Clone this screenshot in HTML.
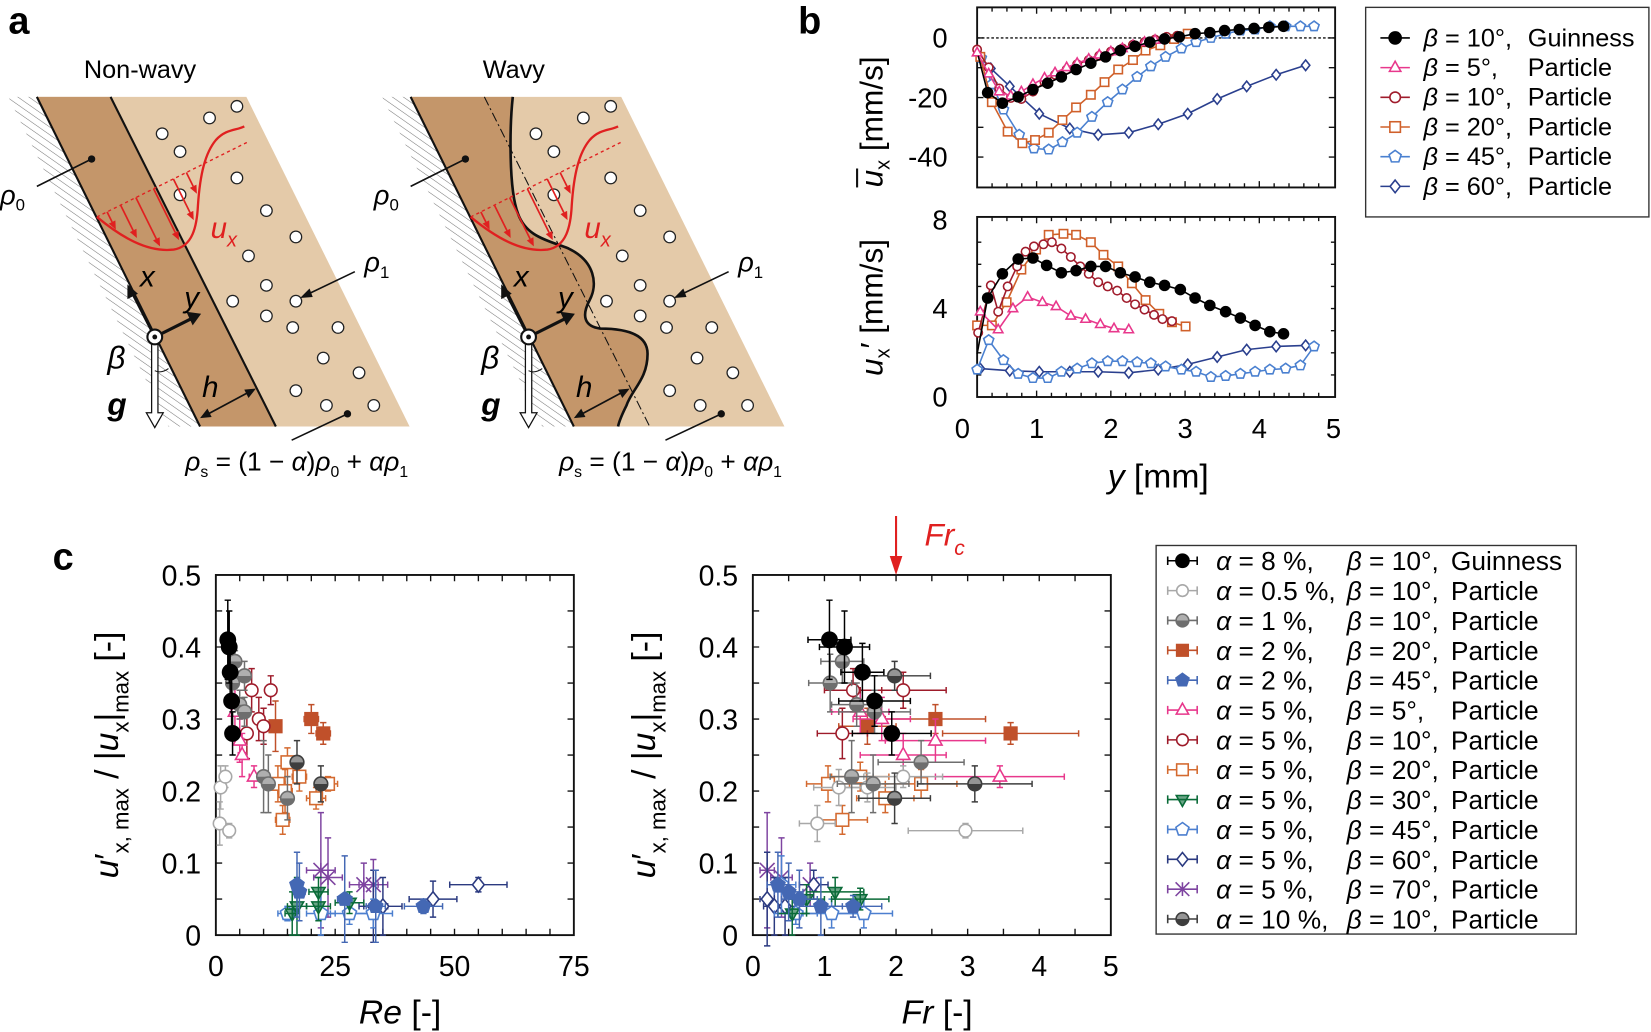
<!DOCTYPE html>
<html><head><meta charset="utf-8"><style>
html,body{margin:0;padding:0;background:#fff}
svg{display:block;font-family:"Liberation Sans",Arial,sans-serif}
</style></head><body>
<svg id="s" xmlns="http://www.w3.org/2000/svg" width="1651" height="1032" viewBox="0 0 1568 980" preserveAspectRatio="none">
<defs>
<pattern id="hatch" patternUnits="userSpaceOnUse" width="6" height="6" patternTransform="rotate(-55)">
<line x1="0" y1="0" x2="0" y2="6" stroke="#777" stroke-width="1"/>
</pattern>
</defs>
<g id="root"></g>
</svg>
<script>
var S=[];function A(s){S.push(s)}
// ---------------- Panel a ----------------
A('<text x="8" y="32" font-size="36" font-weight="bold">a</text>');
A('<text x="133" y="74" font-size="24" text-anchor="middle">Non-wavy</text>');
A('<text x="488" y="74" font-size="24" text-anchor="middle">Wavy</text>');
var parts=[[154,127],[171,144],[199,112],[225,101],[225,169],[171,185],[253,200],[281,225],[236,243],[253,271],[281,286],[221,286],[253,300],[278,311],[321,311],[307,340],[341,354],[281,371],[310,385],[355,385]];
function diagram(o,wavy){
  A('<polygon points="'+(8+o)+',92 '+(35+o)+',92 '+(190+o)+',405 '+(160+o)+',405" fill="url(#hatch)"/>');
  if(!wavy){
    A('<polygon points="'+(35+o)+',92 '+(234+o)+',92 '+(389+o)+',405 '+(190+o)+',405" fill="#e4caa9"/>');
    A('<polygon points="'+(35+o)+',92 '+(105+o)+',92 '+(262+o)+',405 '+(190+o)+',405" fill="#c4966a"/>');
    A('<line x1="'+(105+o)+'" y1="92" x2="'+(262+o)+'" y2="405" stroke="#111" stroke-width="2"/>');
  } else {
    A('<polygon points="'+(35+o)+',92 '+(235+o)+',92 '+(390+o)+',405 '+(190+o)+',405" fill="#e4caa9"/>');
    var ip='M'+(132+o)+',92 C'+(129+o)+',120 '+(128+o)+',180 '+(137+o)+',203 C'+(145+o)+',225 '+(165+o)+',228 '+(185+o)+',236 C'+(210+o)+',248 '+(213+o)+',270 '+(205+o)+',285 C'+(197+o)+',300 '+(200+o)+',310 '+(215+o)+',312 C'+(245+o)+',312 '+(260+o)+',320 '+(260+o)+',336 C'+(260+o)+',360 '+(245+o)+',370 '+(240+o)+',385 C'+(235+o)+',395 '+(233+o)+',400 '+(232+o)+',405';
    A('<path d="M'+(35+o)+',92 L'+(132+o)+',92 '+ip.substring(ip.indexOf('C'))+' L'+(190+o)+',405 Z" fill="#c4966a"/>');
    A('<path d="'+ip+'" fill="none" stroke="#111" stroke-width="2.5"/>');
    A('<line x1="'+(105+o)+'" y1="92" x2="'+(262+o)+'" y2="405" stroke="#111" stroke-width="1" stroke-dasharray="9,3,2,3"/>');
  }
  A('<line x1="'+(35+o)+'" y1="92" x2="'+(190+o)+'" y2="405" stroke="#111" stroke-width="2"/>');
  parts.forEach(function(p){A('<circle cx="'+(p[0]+o)+'" cy="'+p[1]+'" r="5.5" fill="#fff" stroke="#222" stroke-width="1.2"/>')});
  // red profile
  A('<line x1="'+(92+o)+'" y1="206" x2="'+(237+o)+'" y2="134" stroke="#e02020" stroke-width="1.3" stroke-dasharray="3,3"/>');
  A('<path d="M'+(92+o)+',206 C'+(115+o)+',225 '+(140+o)+',240 '+(165+o)+',237 C'+(183+o)+',234 '+(187+o)+',215 '+(188+o)+',195 C'+(190+o)+',165 '+(195+o)+',145 '+(205+o)+',133 C'+(215+o)+',122 '+(225+o)+',124 '+(232+o)+',120" fill="none" stroke="#e02020" stroke-width="2.2"/>');
  var ends=[[110,218],[130,226],[152,234],[170,228],[184,209],[187,184]];
  ends.forEach(function(e){
    var dx=0.444,dy=0.896,ex=e[0]+o,ey=e[1];
    // solve start on dashed line y=206-(x-92-o)*0.497
    var s=(ey-206+(ex-92-o)*0.497)/(dy+dx*0.497);
    var sx=ex-dx*s,sy=ey-dy*s;
    var ax=ex-dx*8,ay=ey-dy*8;
    A('<line x1="'+sx+'" y1="'+sy+'" x2="'+ax+'" y2="'+ay+'" stroke="#e02020" stroke-width="1.6"/>');
    A('<polygon points="'+ex+','+ey+' '+(ax-dy*3.5)+','+(ay+dx*3.5)+' '+(ax+dy*3.5)+','+(ay-dx*3.5)+'" fill="#e02020"/>');
  });
  A('<text x="'+(200+o)+'" y="226" font-size="28" font-style="italic" fill="#e02020">u<tspan font-size="19" dy="8">x</tspan></text>');
  // rho labels
  A('<line x1="'+(35+o)+'" y1="177" x2="'+(87+o)+'" y2="151" stroke="#111" stroke-width="1.5"/><circle cx="'+(87+o)+'" cy="151" r="3.5" fill="#111"/>');
  A('<text x="'+(0+o)+'" y="194" font-size="26" font-style="italic">ρ<tspan font-size="16" dy="6" font-style="normal">0</tspan></text>');
  A('<text x="'+(346+o)+'" y="258" font-size="26" font-style="italic">ρ<tspan font-size="16" dy="6" font-style="normal">1</tspan></text>');
  A('<line x1="'+(337+o)+'" y1="258" x2="'+(291+o)+'" y2="280" stroke="#111" stroke-width="1.5"/><polygon points="'+(285+o)+',283 '+(294+o)+',274 '+(297+o)+',282" fill="#111"/>');
  // x,y arrows
  A('<line x1="'+(147+o)+'" y1="320" x2="'+(126+o)+'" y2="279" stroke="#111" stroke-width="2.5"/><polygon points="'+(121+o)+',270 '+(121+o)+',284 '+(131+o)+',279" fill="#111"/>');
  A('<line x1="'+(147+o)+'" y1="320" x2="'+(181+o)+'" y2="303" stroke="#111" stroke-width="3"/><polygon points="'+(191+o)+',298 '+(177+o)+',296 '+(183+o)+',309" fill="#111"/>');
  A('<text x="'+(133+o)+'" y="272" font-size="28" font-style="italic">x</text>');
  A('<text x="'+(175+o)+'" y="292" font-size="28" font-style="italic">y</text>');
  // gravity arrow
  A('<path d="M'+(144+o)+',326 L'+(144+o)+',392 L'+(139+o)+',392 L'+(147+o)+',406 L'+(155+o)+',392 L'+(150+o)+',392 L'+(150+o)+',326" fill="#fff" stroke="#111" stroke-width="1.2"/>');
  A('<path d="M'+(147+o)+',352 Q'+(153+o)+',355 '+(160+o)+',350" fill="none" stroke="#111" stroke-width="1"/>');
  A('<circle cx="'+(147+o)+'" cy="320" r="7" fill="#fff" stroke="#111" stroke-width="2"/><circle cx="'+(147+o)+'" cy="320" r="2.3" fill="#111"/>');
  A('<text x="'+(102+o)+'" y="350" font-size="30" font-style="italic">β</text>');
  A('<text x="'+(102+o)+'" y="394" font-size="30" font-style="italic" font-weight="bold">g</text>');
  A('<text x="'+(192+o)+'" y="377" font-size="28" font-style="italic">h</text>');
  A('<line x1="'+(196+o)+'" y1="394" x2="'+(237+o)+'" y2="372" stroke="#111" stroke-width="1.6"/>');
  A('<polygon points="'+(190+o)+',397 '+(197+o)+',388 '+(201+o)+',396" fill="#111"/><polygon points="'+(243+o)+',369 '+(232+o)+',370 '+(236+o)+',378" fill="#111"/>');
  A('<line x1="'+(277+o)+'" y1="418" x2="'+(330+o)+'" y2="393" stroke="#111" stroke-width="1.5"/><circle cx="'+(330+o)+'" cy="393" r="3.5" fill="#111"/>');
  A('<text x="'+(176+o)+'" y="447" font-size="25" font-style="italic">ρ<tspan font-size="15" dy="6" font-style="normal">s</tspan><tspan dy="-6" font-style="normal"> = (1 − </tspan>α<tspan font-style="normal">)</tspan>ρ<tspan font-size="15" dy="6" font-style="normal">0</tspan><tspan dy="-6" font-style="normal"> + </tspan>αρ<tspan font-size="15" dy="6" font-style="normal">1</tspan></text>');
}
diagram(0,false);diagram(355,true);

// ---------------- markers ----------------
function mk(t,x,y,c,r){
  r=r||6;var s='',sw=1.5;
  if(t=='fc')s='<circle cx="'+x+'" cy="'+y+'" r="'+r+'" fill="'+c+'"/>';
  else if(t=='oc')s='<circle cx="'+x+'" cy="'+y+'" r="'+(r-1)+'" fill="#fff" stroke="'+c+'" stroke-width="'+sw+'"/>';
  else if(t=='half')s='<circle cx="'+x+'" cy="'+y+'" r="'+(r-0.5)+'" fill="#fff" stroke="'+c+'" stroke-width="'+sw+'"/><path d="M'+(x-r+0.5)+','+y+' A'+(r-0.5)+','+(r-0.5)+' 0 0 0 '+(x+r-0.5)+','+y+' Z" fill="'+c+'"/><path d="M'+(x-r+0.5)+','+y+' A'+(r-0.5)+','+(r-0.5)+' 0 0 1 '+(x+r-0.5)+','+y+'" fill="'+c+'" fill-opacity="0.55"/>';
  else if(t=='sq'||t=='sqf'){var h=r-1;s='<rect x="'+(x-h)+'" y="'+(y-h)+'" width="'+(2*h)+'" height="'+(2*h)+'" fill="'+(t=='sqf'?c:'#fff')+'" stroke="'+c+'" stroke-width="'+sw+'"/>';}
  else if(t=='tri'||t=='trif'){s='<polygon points="'+x+','+(y-r)+' '+(x-r*0.9)+','+(y+r*0.6)+' '+(x+r*0.9)+','+(y+r*0.6)+'" fill="'+(t=='trif'?c:'#fff')+'" stroke="'+c+'" stroke-width="'+sw+'"/>';}
  else if(t=='tridn'){s='<polygon points="'+x+','+(y+r)+' '+(x-r*0.9)+','+(y-r*0.6)+' '+(x+r*0.9)+','+(y-r*0.6)+'" fill="'+c+'" fill-opacity="0.6" stroke="'+c+'" stroke-width="'+sw+'"/>';}
  else if(t=='pent'||t=='pentf'){var p=[];for(var i=0;i<5;i++){var a=-Math.PI/2+i*2*Math.PI/5;p.push((x+r*Math.cos(a)).toFixed(1)+','+(y+r*Math.sin(a)).toFixed(1));}s='<polygon points="'+p.join(' ')+'" fill="'+(t=='pentf'?c:'#fff')+'" stroke="'+c+'" stroke-width="'+sw+'"/>';}
  else if(t=='dia')s='<polygon points="'+x+','+(y-r)+' '+(x+r*0.8)+','+y+' '+x+','+(y+r)+' '+(x-r*0.8)+','+y+'" fill="#fff" stroke="'+c+'" stroke-width="'+sw+'"/>';
  else if(t=='x')s='<path d="M'+(x-r)+','+(y-r)+' L'+(x+r)+','+(y+r)+' M'+(x-r)+','+(y+r)+' L'+(x+r)+','+(y-r)+' M'+x+','+(y-r)+' L'+x+','+(y+r)+'" stroke="'+c+'" stroke-width="'+sw+'"/>';
  return s;
}
function eb(x,y,dx,dy,c){
  var s='<path d="M'+(x-dx)+','+y+' L'+(x+dx)+','+y+' M'+(x-dx)+','+(y-3)+' L'+(x-dx)+','+(y+3)+' M'+(x+dx)+','+(y-3)+' L'+(x+dx)+','+(y+3)+' M'+x+','+(y-dy)+' L'+x+','+(y+dy)+' M'+(x-3)+','+(y-dy)+' L'+(x+3)+','+(y-dy)+' M'+(x-3)+','+(y+dy)+' L'+(x+3)+','+(y+dy)+'" stroke="'+c+'" stroke-width="1.4" fill="none"/>';
  return s;
}

// ---------------- Panel b ----------------
A('<text x="758" y="32" font-size="36" font-weight="bold">b</text>');
function bAxes(x0,y0,x1,y1){
  A('<rect x="'+x0+'" y="'+y0+'" width="'+(x1-x0)+'" height="'+(y1-y0)+'" fill="none" stroke="#111" stroke-width="1.8"/>');
  for(var v=0.4;v<5.01;v+=0.2){var X=914+70.5*v;if(X<x0+2||X>x1-2)continue;var L=(Math.abs(v-Math.round(v))<0.01)?6:4;A('<path d="M'+X+','+y0+' L'+X+','+(y0+L)+' M'+X+','+y1+' L'+X+','+(y1-L)+'" stroke="#111" stroke-width="1.3"/>');}
}
bAxes(928,7,1268,178);bAxes(928,206,1268,377);
A('<line x1="928" y1="36" x2="1268" y2="36" stroke="#111" stroke-width="1.3" stroke-dasharray="2.5,2"/>');
// y ticks top: -40..0 every 10
for(var u=-50;u<=10;u+=10){var Y=36-2.83*u;if(Y<10||Y>175)continue;A('<path d="M928,'+Y+' L934,'+Y+' M1268,'+Y+' L1262,'+Y+'" stroke="#111" stroke-width="1.3"/>');}
for(var u=1;u<8;u+=1){var Y=377-21*u;A('<path d="M928,'+Y+' L932,'+Y+' M1268,'+Y+' L1264,'+Y+'" stroke="#111" stroke-width="1.3"/>');}
[[0,36],[-20,93],[-40,149]].forEach(function(t){A('<text x="900" y="'+(t[1]+9)+'" font-size="26" text-anchor="end">'+(t[0]<0?'-'+(-t[0]):t[0])+'</text>')});
[[8,209],[4,293],[0,377]].forEach(function(t){A('<text x="900" y="'+(t[1]+9)+'" font-size="26" text-anchor="end">'+t[0]+'</text>')});
for(var i=0;i<=5;i++)A('<text x="'+(914+70.5*i)+'" y="416" font-size="26" text-anchor="middle">'+i+'</text>');
A('<text x="1100" y="463" font-size="32" text-anchor="middle"><tspan font-style="italic">y</tspan> [mm]</text>');
A('<g transform="translate(838,100) rotate(-90)"><text x="-78" y="0" font-size="30"><tspan font-style="italic">u</tspan><tspan font-size="19" dy="7">x</tspan><tspan dy="-7"> [mm/s]</tspan></text><line x1="-78" y1="-24" x2="-60" y2="-24" stroke="#111" stroke-width="2"/></g>');
A('<g transform="translate(838,292) rotate(-90)"><text x="0" y="0" font-size="30" text-anchor="middle"><tspan font-style="italic">u</tspan><tspan font-size="19" dy="7">x</tspan><tspan dy="-7">′ [mm/s]</tspan></text></g>');
function ser(pts,t,c,r){
  A('<polyline points="'+pts.map(function(p){return p.join(',')}).join(' ')+'" fill="none" stroke="'+c+'" stroke-width="1.5"/>');
  pts.forEach(function(p,i){ if(t=='fc'&&i==0)return; A(mk(t,p[0],p[1],c,r||5)); });
}
var Xs=[928,939,949,960,970,981,992,1002,1013,1023,1034,1044,1055,1066,1076,1087,1097,1108,1118];
function zip(ys){return ys.map(function(y,i){return [Xs[i],y]})}
var cNavy='#2a3f8e',cLB='#4a80d0',cOr='#d0602a',cDR='#a01c2c',cPk='#e8388c';
// top plot
ser([[932,55],[941,65],[959,82],[987,108],[1016,122],[1043,128],[1072,126],[1100,118],[1128,108],[1156,94],[1184,82],[1212,71],[1240,62]],'dia',cNavy);
ser([[932,55],[942,80],[953,104],[968,128],[982,141],[996,142],[1009,135],[1023,126],[1037,111],[1052,97],[1066,85],[1080,73],[1093,63],[1107,54],[1122,46],[1136,40],[1150,36],[1164,32],[1178,29],[1192,28],[1206,25],[1221,25],[1235,25],[1248,25]],'pent',cLB);
ser([[931,54],[942,97],[957,125],[971,136],[983,133],[996,126],[1009,114],[1022,102],[1036,90],[1049,78],[1062,66],[1076,57],[1088,48],[1102,43],[1115,37],[1128,32]],'sq',cOr);
ser(zip([47,64,84,93,94,87,78,71,66,61,57,53,49,46,42.5,40,37.5,35,34]),'oc',cDR);
ser(zip([50,70,87,91,87,80,74,69,64,60,56,52,49,46,43,40,38]),'tri',cPk);
ser([[929,53],[938,88],[952,98],[967,92],[981,85],[995,79],[1008,73],[1022,66],[1036,60],[1050,54],[1064,48],[1078,44],[1092,40],[1106,37],[1120,35],[1135,32],[1149,31],[1163,29],[1177,28],[1191,27],[1205,26],[1219,25]],'fc','#000',5.5);
// bottom plot
ser([[931,350],[959,352],[987,353],[1016,353],[1043,353],[1072,354],[1100,351],[1128,346],[1156,339],[1184,332],[1212,329],[1240,328]],'dia',cNavy);
ser([[928,351],[939,323],[953,342],[967,355],[981,359],[995,359],[1008,353],[1023,350],[1037,345],[1052,343],[1066,343],[1080,344],[1093,345],[1107,348],[1122,351],[1136,353],[1150,358],[1164,357],[1178,355],[1192,353],[1206,351],[1221,350],[1235,347],[1248,329]],'pent',cLB);
ser([[928,309],[942,309],[956,287],[970,256],[984,237],[996,223],[1010,222],[1022,223],[1036,230],[1048,242],[1062,253],[1075,269],[1088,285],[1101,298],[1113,306],[1126,310]],'sq',cOr);
ser([[929,316],[941,271],[948,296],[957,272],[966,253],[974,239],[982,234],[991,232],[999,230],[1008,236],[1017,244],[1026,253],[1034,260],[1043,268],[1052,272],[1061,276],[1070,283],[1078,289],[1087,294],[1096,299],[1104,303],[1113,305]],'oc',cDR);
ser([[931,296],[948,313],[962,293],[976,282],[990,287],[1003,291],[1017,300],[1031,303],[1045,308],[1058,312],[1072,313]],'tri',cPk);
ser([[928,336],[938,283],[952,260],[967,246],[981,245],[994,252],[1008,259],[1022,257],[1036,253],[1050,253],[1064,259],[1078,263],[1092,268],[1106,271],[1121,275],[1135,283],[1149,290],[1164,296],[1178,302],[1192,309],[1206,315],[1219,317]],'fc','#000',5.5);
// legend b
A('<rect x="1297" y="7" width="269" height="199" fill="#fff" stroke="#333" stroke-width="1.3"/>');
var lb=[['fc','#000','10°,','Guinness'],['tri',cPk,'5°,','Particle'],['oc',cDR,'10°,','Particle'],['sq',cOr,'20°,','Particle'],['pent',cLB,'45°,','Particle'],['dia',cNavy,'60°,','Particle']];
lb.forEach(function(e,i){var y=36+i*28.2;A('<line x1="1311" y1="'+y+'" x2="1339" y2="'+y+'" stroke="'+e[1]+'" stroke-width="1.5"/>');A(mk(e[0],1325,y,e[1],e[0]=='fc'?6.5:6));
A('<text x="1352" y="'+(y+8)+'" font-size="24"><tspan font-style="italic">β</tspan> = '+e[2]+'</text><text x="1451" y="'+(y+8)+'" font-size="24">'+e[3]+'</text>');});

// ---------------- Panel c ----------------
A('<text x="50" y="541" font-size="36" font-weight="bold">c</text>');
function cAxes(x0,x1,step,n,labs){
  A('<rect x="'+x0+'" y="546" width="'+(x1-x0)+'" height="342" fill="none" stroke="#111" stroke-width="1.8"/>');
  for(var i=1;i<n;i++){var X=x0+(x1-x0)*i/n;A('<path d="M'+X+',546 L'+X+',552 M'+X+',888 L'+X+',882" stroke="#111" stroke-width="1.3"/>');}
  for(var i=1;i<10;i++){var Y=888-34.2*i;A('<path d="M'+x0+','+Y+' L'+(x0+6)+','+Y+' M'+x1+','+Y+' L'+(x1-6)+','+Y+'" stroke="#111" stroke-width="1.3"/>');}
  ['0','0.1','0.2','0.3','0.4','0.5'].forEach(function(t,i){A('<text x="'+(x0-14)+'" y="'+(888-68.4*i+10)+'" font-size="27" text-anchor="end">'+t+'</text>')});
  labs.forEach(function(t,i){A('<text x="'+(x0+(x1-x0)*i/(labs.length-1))+'" y="927" font-size="27" text-anchor="middle">'+t+'</text>')});
}
cAxes(205,545,15,15,['0','25','50','75']);
cAxes(715,1055,10,10,['0','1','2','3','4','5']);
A('<text x="380" y="972" font-size="32" text-anchor="middle"><tspan font-style="italic">Re</tspan> [-]</text>');
A('<text x="890" y="972" font-size="32" text-anchor="middle"><tspan font-style="italic">Fr</tspan> [-]</text>');
function ctitle(cx){A('<g transform="translate('+cx+',717) rotate(-90)"><text x="0" y="0" font-size="32" text-anchor="middle"><tspan font-style="italic">u</tspan>′<tspan font-size="21" dy="10">x, max</tspan><tspan dy="-10"> / |</tspan><tspan font-style="italic">u</tspan><tspan font-size="21" dy="10">x</tspan><tspan dy="-10">|</tspan><tspan font-size="21" dy="10">max</tspan><tspan dy="-10"> [-]</tspan></text></g>');}
ctitle(112);ctitle(622);
A('<line x1="851" y1="490" x2="851" y2="535" stroke="#e02020" stroke-width="2"/><polygon points="845,528 857,528 851,546" fill="#e02020"/>');
A('<text x="878" y="518" font-size="30" font-style="italic" fill="#e02020">Fr<tspan font-size="20" dy="9">c</tspan></text>');
var C={blk:'#000',lg:'#a8a8a8',g:'#6e6e6e',osf:'#c0502a',bf:'#4468b4',pk:'#e8388c',dr:'#9e1b2a',os:'#d46a30',gr:'#0a6b38',lb:'#4c7fcf',nv:'#2b3a80',pu:'#7e44a0',dg:'#3e3e3e'};
function plotC(data,fx,sx){
  data.forEach(function(d){
    var t=d[0],c=d[1];
    d[2].forEach(function(p){A(eb(fx(p[0]),888-684*p[1],p[2]*sx,p[3]*684,c));});
    d[2].forEach(function(p){A(mk(t,fx(p[0]),888-684*p[1],c,t=='fc'?8:7));});
  });
}
var left=[
['x',C.pu,[[22,.09,3,.08],[23.5,.08,3,.055],[31,.07,3,.03],[33,.07,3,.035]]],
['dia',C.nv,[[35,.04,4,.04],[45.5,.05,5,.025],[55,.07,6,.01],[33,.04,3,.05]]],
['pent',C.lb,[[15,.03,2,.01],[22,.03,3,.03],[28,.03,4,.015],[33,.03,4,.02]]],
['tridn',C.gr,[[16,.03,1.5,.03],[17,.04,2,.04],[21.5,.06,2,.02],[21.5,.04,2.5,.02],[28,.045,3,.015]]],
['pentf',C.bf,[[17,.07,1,.045],[17.5,.06,1.2,.04],[27,.05,1.5,.06],[33.5,.04,2,.05],[43.5,.04,4,.01]]],
['sq',C.os,[[13,.21,1.5,.025],[14.5,.20,1.5,.03],[17.5,.22,1.5,.02],[14,.16,1.5,.02],[21,.19,2,.015],[23.5,.21,2,.01],[15,.24,1,.02]]],
['sqf',C.osf,[[12.5,.29,1,.035],[20,.30,1.5,.02],[22.5,.28,1.5,.015]]],
['oc',C.dr,[[7.5,.34,.8,.03],[11.5,.34,.8,.02],[9,.30,.8,.03],[10,.29,.8,.025],[6.5,.28,.8,.035]]],
['tri',C.pk,[[4,.31,.8,.035],[5,.27,.8,.03],[5.5,.25,.8,.03],[8,.22,1,.015]]],
['oc',C.lg,[[1,.205,.5,.03],[2,.22,.6,.015],[0.8,.155,.5,.03],[2.8,.145,.6,.01]]],
['half',C.g,[[4,.38,.8,.015],[6,.36,.8,.02],[3.5,.35,.6,.02],[5,.32,.8,.02],[6,.31,.8,.02],[10,.22,1,.05],[11,.21,1,.04],[15,.19,1,.03]]],
['half',C.dg,[[17,.24,1,.03],[22,.21,1,.025]]],
['fc',C.blk,[[2.5,.41,.8,.055],[2.8,.40,.8,.05],[3,.365,.8,.04],[3.3,.325,.8,.035],[3.5,.28,.8,.03]]]
];
plotC(left,function(v){return 205+v*4.533},4.533);
var right=[
['x',C.pu,[[0.2,.09,.1,.08],[0.4,.08,.15,.055],[0.8,.07,.15,.03]]],
['dia',C.nv,[[0.2,.05,.1,.065],[0.3,.04,.15,.04],[0.85,.07,.2,.02],[0.45,.04,.15,.04]]],
['pent',C.lb,[[0.6,.03,.3,.015],[1.1,.03,.4,.02],[1.55,.03,.4,.02],[0.4,.07,.2,.04]]],
['tridn',C.gr,[[0.55,.03,.2,.03],[0.75,.05,.25,.02],[1.15,.06,.4,.02],[1.5,.05,.4,.015]]],
['pentf',C.bf,[[0.35,.07,.15,.045],[0.5,.06,.2,.04],[0.65,.05,.25,.04],[0.95,.04,.3,.04],[1.4,.04,.4,.015]]],
['sq',C.os,[[1.25,.16,.35,.02],[1.05,.21,.3,.025],[1.5,.22,.4,.02],[2.35,.21,.5,.02],[1.85,.19,.4,.02]]],
['sqf',C.osf,[[1.6,.29,.4,.025],[2.55,.30,.7,.02],[3.6,.28,.95,.015]]],
['tri',C.pk,[[1.5,.31,.4,.03],[1.8,.30,.4,.03],[2.1,.25,.6,.03],[2.55,.27,.7,.03],[3.45,.22,.9,.015]]],
['oc',C.dr,[[1.4,.34,.4,.03],[2.1,.34,.6,.025],[1.25,.28,.35,.035]]],
['oc',C.lg,[[0.9,.155,.25,.025],[1.2,.205,.35,.025],[1.6,.205,.4,.02],[2.1,.22,.55,.015],[2.97,.145,.8,.01]]],
['half',C.g,[[1.25,.38,.3,.03],[1.08,.35,.3,.04],[1.45,.32,.35,.03],[1.7,.31,.5,.03],[1.38,.22,.3,.05],[1.68,.21,.5,.04],[2.35,.24,.6,.03]]],
['half',C.dg,[[1.98,.36,.5,.02],[1.98,.19,.5,.035],[3.1,.21,.8,.025]]],
['fc',C.blk,[[1.07,.41,.3,.055],[1.28,.40,.35,.05],[1.53,.365,.3,.04],[1.7,.325,.5,.035],[1.94,.28,.55,.03]]]
];
plotC(right,function(v){return 715+v*68},68);
// legend c
A('<rect x="1098" y="518" width="399" height="369" fill="#fff" stroke="#333" stroke-width="1.3"/>');
var lc=[['fc',C.blk,'8 %,','10°,','Guinness'],['oc',C.lg,'0.5 %,','10°,','Particle'],['half',C.g,'1 %,','10°,','Particle'],['sqf',C.osf,'2 %,','20°,','Particle'],['pentf',C.bf,'2 %,','45°,','Particle'],['tri',C.pk,'5 %,','5°,','Particle'],['oc',C.dr,'5 %,','10°,','Particle'],['sq',C.os,'5 %,','20°,','Particle'],['tridn',C.gr,'5 %,','30°,','Particle'],['pent',C.lb,'5 %,','45°,','Particle'],['dia',C.nv,'5 %,','60°,','Particle'],['x',C.pu,'5 %,','70°,','Particle'],['half',C.dg,'10 %,','10°,','Particle']];
lc.forEach(function(e,i){var y=532.5+i*28.35;
A('<path d="M1109,'+y+' L1137,'+y+' M1109,'+(y-4)+' L1109,'+(y+4)+' M1137,'+(y-4)+' L1137,'+(y+4)+'" stroke="'+e[1]+'" stroke-width="1.5"/>');
A(mk(e[0],1123,y,e[1],e[0]=='fc'?7:6.5));
A('<text x="1155" y="'+(y+9)+'" font-size="25"><tspan font-style="italic">α</tspan> = '+e[2]+'</text><text x="1279" y="'+(y+9)+'" font-size="25"><tspan font-style="italic">β</tspan> = '+e[3]+'</text><text x="1378" y="'+(y+9)+'" font-size="25">'+e[4]+'</text>');});
document.getElementById('root').innerHTML=S.join('');
</script>
</body></html>
